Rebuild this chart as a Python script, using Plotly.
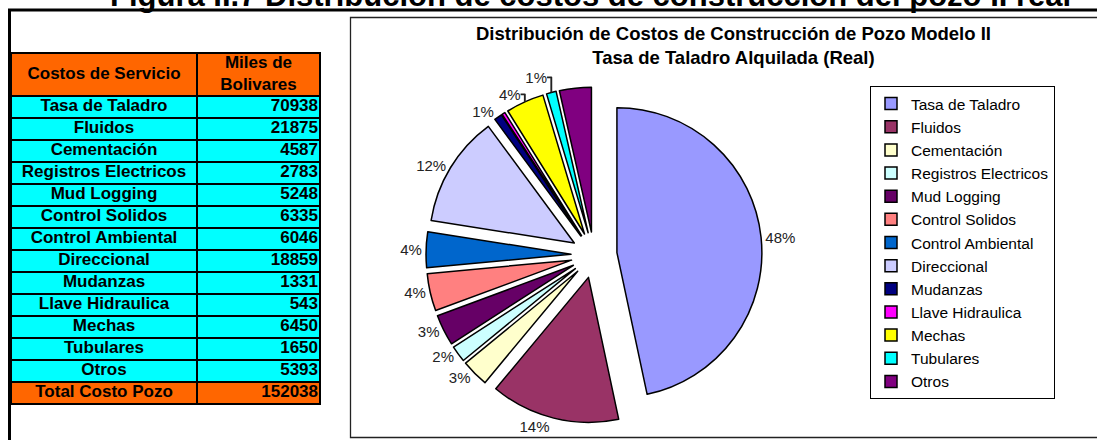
import plotly.graph_objects as go

# ---------------- data ----------------
categories = ["Tasa de Taladro", "Fluidos", "Cementación", "Registros Electricos",
              "Mud Logging", "Control Solidos", "Control Ambiental", "Direccional",
              "Mudanzas", "Llave Hidraulica", "Mechas", "Tubulares", "Otros"]
costs = [70938, 21875, 4587, 2783, 5248, 6335, 6046, 18859, 1331, 543, 6450, 1650, 5393]
pct_labels = ["48%", "14%", "3%", "2%", "3%", "4%", "4%", "12%", "1%", "", "4%", "1%", ""]
slice_colors = ["#9999FF", "#993366", "#FFFFCC", "#CCFFFF", "#660066", "#FF8080",
                "#0066CC", "#CCCCFF", "#000080", "#FF00FF", "#FFFF00", "#00FFFF", "#800080"]
header_labels = ["Costos de Servicio", "Miles de<br>Bolivares"]
total_label = "Total Costo Pozo"
figure_title = "Figura II.7 Distribución de costos de construcción del pozo II real"
chart_title = "Distribución de Costos de Construcción de Pozo Modelo II<br>Tasa de Taladro Alquilada (Real)"

# ---------------- layout constants ----------------
W, H = 1097, 440
FONT = "Liberation Sans, Arial, sans-serif"
ORANGE, CYAN = "#FF6600", "#00FFFF"


def px(x):
    return x / W


def py(y):
    return 1 - y / H


# table geometry (in table-axis units = pixels)
col_w = [186, 123]
header_h = 43
row_h = 22

total = sum(costs)
n_rows = len(categories) + 2  # header + categories + total
col_edges = [0, col_w[0], col_w[0] + col_w[1]]
row_edges = [0, header_h] + [header_h + row_h * (i + 1) for i in range(len(categories) + 1)]
row_centers = [(row_edges[i] + row_edges[i + 1]) / 2 for i in range(n_rows)]
# 0 -> orange, 1 -> cyan
row_kind = [0] + [1] * len(categories) + [0]
z = [[k, k] for k in row_kind]

col1_text = [header_labels[0]] + categories + [total_label]
col2_text = [str(v) for v in costs] + [str(total)]

fig = go.Figure()

# table cells
fig.add_trace(go.Heatmap(
    x=col_edges, y=row_edges, z=z,
    colorscale=[[0, ORANGE], [1, CYAN]], zmin=0, zmax=1,
    showscale=False, xgap=2, ygap=2, hoverinfo="skip",
))
bold = dict(family=FONT, size=17, color="black", weight="bold")
fig.add_trace(go.Scatter(
    x=[col_w[0] / 2] * n_rows, y=row_centers, text=col1_text,
    mode="text", textposition="middle center", textfont=bold,
    showlegend=False, hoverinfo="skip",
))
fig.add_trace(go.Scatter(
    x=[col_w[0] + col_w[1] / 2], y=[row_centers[0]], text=[header_labels[1]],
    mode="text", textposition="middle center", textfont=bold,
    showlegend=False, hoverinfo="skip",
))
fig.add_trace(go.Scatter(
    x=[col_edges[-1] - 2] * (n_rows - 1), y=row_centers[1:], text=col2_text,
    mode="text", textposition="middle left", textfont=bold,
    showlegend=False, hoverinfo="skip",
))

# pie
fig.add_trace(go.Pie(
    labels=categories,
    values=costs,
    text=pct_labels,
    textinfo="text",
    textposition="outside",
    sort=False,
    direction="clockwise",
    rotation=0,
    pull=0.159,
    marker=dict(colors=slice_colors, line=dict(color="black", width=1.5)),
    outsidetextfont=dict(family=FONT, size=15, color="#222222"),
    domain=dict(x=[px(426), px(762)], y=[py(423), py(87)]),
    hoverinfo="label+value",
    showlegend=True,
))

shapes = [
    # chart frame
    dict(type="rect", xref="paper", yref="paper",
         x0=px(350.5), x1=px(1105), y0=py(437.5), y1=py(17.5),
         line=dict(color="#222222", width=1.3), fillcolor="rgba(0,0,0,0)", layer="below"),
    # table outer border
    dict(type="rect", xref="paper", yref="paper",
         x0=px(11), x1=px(320), y0=py(53 + row_edges[-1]), y1=py(53),
         line=dict(color="black", width=2), fillcolor="rgba(0,0,0,0)"),
    # thick top rule
    dict(type="line", xref="paper", yref="paper",
         x0=px(8), x1=px(1100), y0=py(10), y1=py(10),
         line=dict(color="black", width=3)),
    # thick left rule
    dict(type="line", xref="paper", yref="paper",
         x0=px(9.5), x1=px(9.5), y0=py(9), y1=py(445),
         line=dict(color="black", width=3)),
]

annotations = [
    dict(text=figure_title, xref="paper", yref="paper", x=px(590), y=py(15.5),
         xanchor="center", yanchor="bottom", showarrow=False,
         font=dict(family=FONT, size=31, color="black", weight="bold")),
    dict(text=chart_title, xref="paper", yref="paper", x=px(733), y=py(21),
         xanchor="center", yanchor="top", showarrow=False,
         font=dict(family=FONT, size=18.5, color="black", weight="bold")),
]

fig.update_layout(
    width=W, height=H,
    margin=dict(l=0, r=0, t=0, b=0, autoexpand=False),
    paper_bgcolor="white",
    plot_bgcolor="black",
    xaxis=dict(domain=[px(11), px(320)], range=[0, col_edges[-1]], visible=False,
               fixedrange=True),
    yaxis=dict(domain=[py(53 + row_edges[-1]), py(53)], range=[row_edges[-1], 0],
               visible=False, fixedrange=True),
    shapes=shapes,
    annotations=annotations,
    legend=dict(
        x=px(870), y=py(86), xanchor="left", yanchor="top",
        bordercolor="black", borderwidth=1, bgcolor="white",
        font=dict(family=FONT, size=15.5, color="black"),
        itemwidth=30, traceorder="normal",
    ),
    font=dict(family=FONT),
)

fig.write_html("out.html")
